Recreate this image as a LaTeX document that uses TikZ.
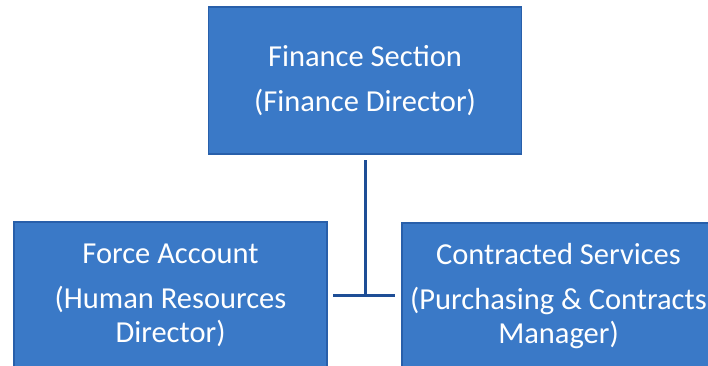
\documentclass[tikz,border=0pt]{standalone}
\usepackage{fontspec}
\setmainfont{Carlito}
\definecolor{boxblue}{RGB}{58,121,199}
\definecolor{edgeblue}{RGB}{40,95,170}
\definecolor{lineblue}{RGB}{30,78,150}
\begin{document}
\begin{tikzpicture}[x=1pt, y=1pt,
    font=\fontsize{30.5}{34}\selectfont,
    box/.style={draw=edgeblue, line width=1.2pt, fill=boxblue, text=white,
      align=center, inner sep=0pt, minimum width=313pt, minimum height=147pt},
    link/.style={draw=lineblue, line width=3pt}]
  \useasboundingbox (0,0) rectangle (708,365);
  \clip (0,0) rectangle (708,365);
  \node[box] (fin) at (365,284.5) {Finance Section\\[11pt](Finance Director)};
  \node[box] (force) at (170.5,69.5) {Force Account\\[11pt](Human Resources\\Director)};
  \node[box] (contr) at (558.5,68.5) {Contracted Services\\[11pt](Purchasing \& Contracts\\Manager)};
  \coordinate (tt) at (365,205);
  \coordinate (tl) at (333,70);
  \coordinate (tr) at (395,70);
  \draw[link] (tt) -- (tt |- tl);
  \draw[link] (tl) -- (tr);
\end{tikzpicture}
\end{document}
